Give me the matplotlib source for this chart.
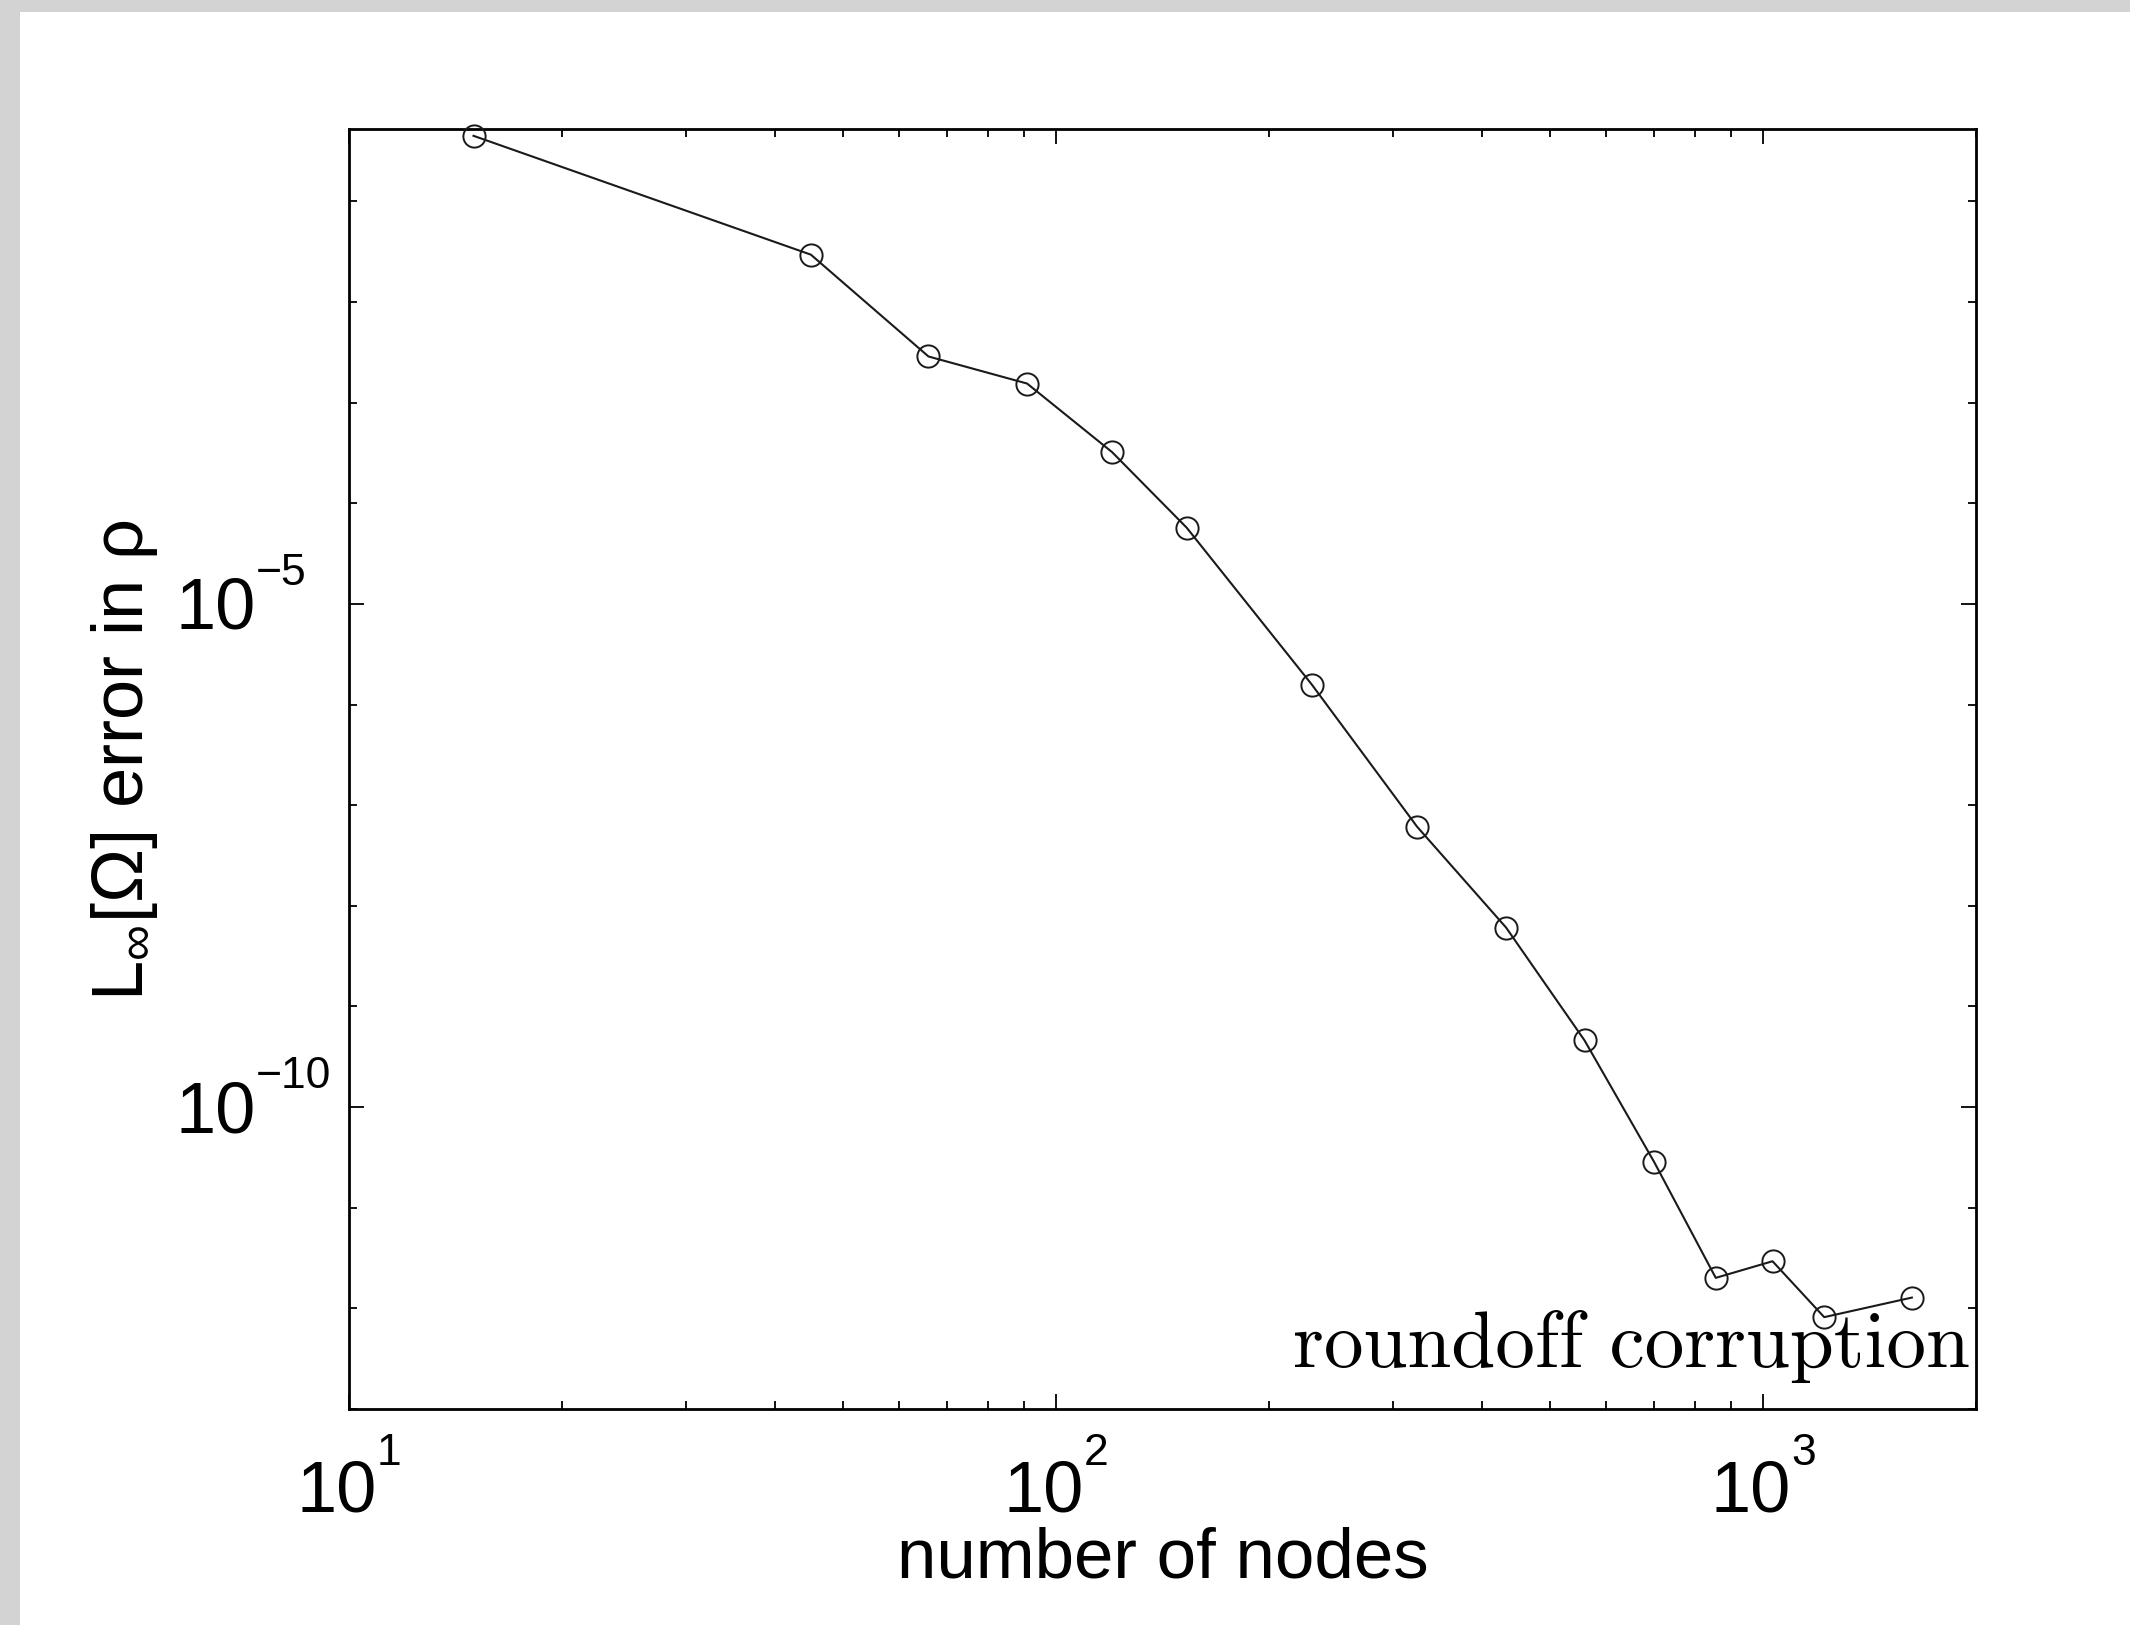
import matplotlib
matplotlib.use("Agg")
import matplotlib.pyplot as plt
import numpy as np
from matplotlib.patches import Rectangle
from matplotlib.ticker import FixedLocator, LogLocator

plt.rcParams['font.family'] = ['Liberation Sans', 'DejaVu Sans']
plt.rcParams['mathtext.fontset'] = 'custom'
plt.rcParams['mathtext.rm'] = 'Liberation Sans'
plt.rcParams['mathtext.it'] = 'Liberation Sans:italic'
plt.rcParams['mathtext.bf'] = 'Liberation Sans:bold'

# data
nodes = [15, 45, 66, 91, 120, 153, 230, 324, 433, 559, 701, 857, 1031, 1220, 1623]
err = [4.49e-1, 2.96e-2, 2.88e-3, 1.55e-3, 3.23e-4, 5.73e-5, 1.58e-6, 6.12e-8,
       6.08e-9, 4.60e-10, 2.86e-11, 2.01e-12, 2.94e-12, 8.18e-13, 1.28e-12]

x_major = [10, 100, 1000]
x_exps = ['1', '2', '3']
y_major = [1e-10, 1e-5]
y_exps = ['\u221210', '\u22125']

W, H = 2130, 1625
fig = plt.figure(figsize=(W / 100, H / 100), dpi=100)
fig.patch.set_facecolor('#d3d3d3')
fig.add_artist(Rectangle((20 / W, 0), 1, 1 - 12 / H, transform=fig.transFigure,
                         facecolor='white', edgecolor='none', zorder=-10))

ax = fig.add_axes([349 / W, 1 - 1409 / H, (1976 - 349) / W, (1409 - 129) / H])
ax.plot(nodes, err, '-o', color='#1a1a1a', lw=1.5, ms=16, mfc='none',
        mec='#1a1a1a', mew=1.4, clip_on=False, zorder=3)

ax.set_xscale('log')
ax.set_yscale('log')
ax.set_xlim(10, 2000)
ax.set_ylim(1e-13, 10 ** -0.28)

ax.xaxis.set_major_locator(FixedLocator(x_major))
ax.xaxis.set_minor_locator(LogLocator(base=10, subs=np.arange(2, 10), numticks=30))
ax.yaxis.set_major_locator(FixedLocator(y_major))
ax.yaxis.set_minor_locator(LogLocator(base=10, subs=(1.0,), numticks=30))
ax.tick_params(which='both', direction='in', top=True, right=True,
               labelbottom=False, labelleft=False, color='black')
ax.tick_params(which='major', length=11, width=1.3)
ax.tick_params(which='minor', length=6, width=1.3)
for s in ax.spines.values():
    s.set_linewidth(2.0)
    s.set_color('black')

# tick labels drawn as base + exponent, like the original
for v, e in zip(x_major, x_exps):
    ax.annotate('10', xy=(v, 0), xycoords=ax.get_xaxis_transform(), xytext=(28, -103),
                textcoords='offset pixels', ha='right', va='baseline', fontsize=52)
    ax.annotate(e, xy=(v, 0), xycoords=ax.get_xaxis_transform(), xytext=(28, -56),
                textcoords='offset pixels', ha='left', va='baseline', fontsize=32)
for v, e in zip(y_major, y_exps):
    ax.annotate('10', xy=(0, v), xycoords=ax.get_yaxis_transform(), xytext=(-93, -25),
                textcoords='offset pixels', ha='right', va='baseline', fontsize=52)
    ax.annotate(e, xy=(0, v), xycoords=ax.get_yaxis_transform(), xytext=(-93, 19),
                textcoords='offset pixels', ha='left', va='baseline', fontsize=32)

ax.set_xlabel('number of nodes', fontsize=51)
ax.xaxis.set_label_coords(0.5, -(1578 - 1409) / 1280)
ax.xaxis.label.set_verticalalignment('baseline')

ax.set_ylabel(r'L$_{\infty}$[Ω] error in ρ', fontsize=52)
ax.yaxis.set_label_coords((143 - 349) / 1627, 0.507)
ax.yaxis.label.set_verticalalignment('baseline')

ax.text(0.996, 0.0328, 'roundoff corruption', transform=ax.transAxes,
        ha='right', va='baseline', fontsize=57, family='cmr10')

fig.savefig('out.png', dpi=100)
